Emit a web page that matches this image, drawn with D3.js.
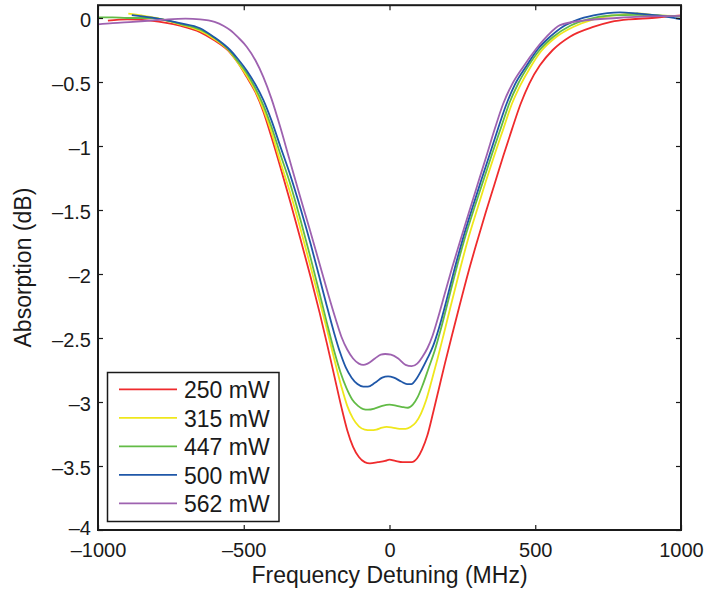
<!DOCTYPE html>
<html>
<head>
<meta charset="utf-8">
<script src="https://cdn.jsdelivr.net/npm/d3@7"></script>
<style>
  body { margin: 0; background: #fff; }
  text { font-family: "Liberation Sans", Arial, Helvetica, sans-serif; fill: #1a1a1a; }
</style>
</head>
<body>
<div id="canvas"></div>
<script>
  // series labels and colours, same order as the legend
  const seriesNames = ['250 mW', '315 mW', '447 mW', '500 mW', '562 mW'];
  const seriesColors = ['#ef2b2d', '#efe71c', '#62bb46', '#1f57a8', '#9e62b0'];

  const xTicks = [-1000, -500, 0, 500, 1000];
  const yTicks = [0, -0.5, -1, -1.5, -2, -2.5, -3, -3.5, -4];

  // [detuning MHz, absorption dB]
  const p250 = [[-966,-0.02],[-900,-0.01],[-820,-0.02],[-719,-0.06],[-650,-0.11],[-604,-0.17],[-547,-0.27],[-520,-0.35],[-490,-0.46],[-460,-0.58],[-433,-0.73],[-405,-0.93],[-375,-1.16],[-340,-1.44],[-305,-1.73],[-270,-2.03],[-240,-2.3],[-215,-2.54],[-190,-2.79],[-165,-3.04],[-145,-3.22],[-125,-3.35],[-105,-3.43],[-85,-3.47],[-67,-3.48],[-40,-3.47],[-15,-3.46],[0,-3.45],[20,-3.46],[45,-3.47],[76,-3.47],[95,-3.44],[112,-3.37],[130,-3.26],[150,-3.08],[170,-2.89],[190,-2.7],[212,-2.5],[240,-2.25],[270,-1.99],[300,-1.75],[330,-1.52],[360,-1.3],[390,-1.08],[420,-0.87],[450,-0.67],[480,-0.51],[516,-0.37],[560,-0.25],[619,-0.146],[699,-0.07],[760,-0.03],[825,-0.01],[900,0.0],[1000,0.02]];
  const p315 = [[-896,0.035],[-850,0.02],[-800,0.0],[-719,-0.05],[-650,-0.1],[-604,-0.16],[-547,-0.265],[-520,-0.35],[-490,-0.45],[-460,-0.57],[-433,-0.71],[-405,-0.89],[-375,-1.12],[-340,-1.37],[-305,-1.65],[-270,-1.95],[-240,-2.21],[-215,-2.43],[-190,-2.66],[-165,-2.88],[-145,-3.03],[-125,-3.13],[-105,-3.19],[-85,-3.215],[-65,-3.22],[-45,-3.215],[-25,-3.2],[-10,-3.195],[10,-3.2],[35,-3.21],[55,-3.21],[72,-3.195],[90,-3.16],[108,-3.09],[125,-2.99],[145,-2.83],[165,-2.66],[185,-2.48],[210,-2.25],[240,-1.98],[268,-1.74],[300,-1.5],[330,-1.28],[360,-1.07],[390,-0.87],[420,-0.67],[450,-0.52],[482,-0.39],[520,-0.26],[573,-0.146],[630,-0.07],[700,-0.01],[770,0.02],[848,0.036],[920,0.02],[1000,0.016]];
  const p447 = [[-1000,0.005],[-950,0.005],[-900,0.0],[-822,0.0],[-760,-0.02],[-719,-0.045],[-650,-0.09],[-604,-0.15],[-547,-0.26],[-520,-0.34],[-490,-0.43],[-460,-0.55],[-433,-0.68],[-405,-0.85],[-375,-1.06],[-340,-1.3],[-305,-1.58],[-270,-1.88],[-240,-2.15],[-215,-2.38],[-190,-2.6],[-168,-2.77],[-148,-2.89],[-128,-2.98],[-108,-3.03],[-90,-3.055],[-74,-3.06],[-50,-3.05],[-25,-3.03],[0,-3.02],[25,-3.03],[45,-3.04],[63,-3.045],[80,-3.02],[97,-2.96],[115,-2.86],[135,-2.73],[155,-2.6],[175,-2.44],[200,-2.22],[228,-1.97],[257,-1.73],[290,-1.49],[322,-1.27],[352,-1.06],[382,-0.86],[412,-0.66],[442,-0.51],[475,-0.38],[515,-0.25],[562,-0.146],[620,-0.06],[680,-0.01],[760,0.02],[850,0.025],[920,0.02],[1000,0.01]];
  const p500 = [[-884,0.023],[-840,0.01],[-780,-0.01],[-719,-0.04],[-650,-0.08],[-604,-0.146],[-547,-0.25],[-520,-0.32],[-490,-0.41],[-460,-0.52],[-433,-0.64],[-405,-0.8],[-375,-1.0],[-340,-1.23],[-305,-1.49],[-270,-1.77],[-240,-2.03],[-215,-2.25],[-190,-2.46],[-170,-2.61],[-150,-2.73],[-130,-2.81],[-110,-2.86],[-90,-2.88],[-74,-2.88],[-50,-2.85],[-25,-2.81],[-5,-2.8],[15,-2.81],[40,-2.84],[60,-2.86],[75,-2.86],[92,-2.82],[110,-2.75],[130,-2.66],[150,-2.56],[170,-2.42],[195,-2.21],[222,-1.97],[251,-1.73],[282,-1.5],[313,-1.28],[343,-1.07],[373,-0.86],[400,-0.68],[430,-0.52],[468,-0.38],[510,-0.24],[551,-0.146],[600,-0.06],[642,-0.016],[700,0.02],[791,0.044],[850,0.035],[920,0.02],[1000,-0.01]];
  const p562 = [[-1000,-0.05],[-950,-0.04],[-880,-0.03],[-820,-0.02],[-760,-0.01],[-700,-0.005],[-650,-0.01],[-600,-0.03],[-570,-0.06],[-547,-0.094],[-520,-0.15],[-490,-0.224],[-460,-0.33],[-433,-0.46],[-405,-0.63],[-375,-0.85],[-345,-1.09],[-310,-1.37],[-275,-1.64],[-240,-1.92],[-210,-2.16],[-185,-2.35],[-165,-2.49],[-145,-2.59],[-125,-2.66],[-105,-2.7],[-90,-2.71],[-75,-2.7],[-50,-2.66],[-30,-2.63],[-15,-2.625],[5,-2.63],[30,-2.66],[55,-2.71],[76,-2.72],[95,-2.7],[112,-2.65],[130,-2.58],[148,-2.48],[168,-2.33],[190,-2.15],[215,-1.95],[244,-1.73],[275,-1.5],[305,-1.28],[335,-1.06],[362,-0.86],[390,-0.67],[420,-0.52],[459,-0.38],[500,-0.25],[539,-0.146],[585,-0.055],[665,-0.02],[780,0.0],[860,0.01],[1000,0.016]];

  const seriesData = [p250, p315, p447, p500, p562];

  const width = 706;
  const height = 591;
  const plotLeft = 98, plotRight = 681, plotTop = 5.2, plotBottom = 530;

  const svg = d3.select('#canvas')
    .append('svg')
    .attr('width', width)
    .attr('height', height);

  const x = d3.scaleLinear().domain([-1000, 1000]).range([plotLeft, plotRight]);
  const y = d3.scaleLinear().domain([-4, 0.1]).range([plotBottom, plotTop]);

  const fmt = (d) => d3.format('')(d).replace(/[-\u2212]/, '\u2013');

  svg.append('defs').append('clipPath').attr('id', 'clip')
    .append('rect')
    .attr('x', plotLeft).attr('y', plotTop)
    .attr('width', plotRight - plotLeft).attr('height', plotBottom - plotTop);

  const line = d3.line()
    .x(d => x(d[0]))
    .y(d => y(d[1]))
    .curve(d3.curveMonotoneX);

  svg.append('g').attr('clip-path', 'url(#clip)')
    .selectAll('path')
    .data(seriesData)
    .enter()
    .append('path')
    .attr('d', line)
    .attr('fill', 'none')
    .attr('stroke', (d, i) => seriesColors[i])
    .attr('stroke-width', 1.8)
    .attr('stroke-linejoin', 'round');

  // axes, ticks pointing in
  const xAxis = svg.append('g')
    .attr('transform', `translate(0,${plotBottom})`)
    .call(d3.axisBottom(x).tickValues(xTicks).tickFormat(fmt).tickSizeInner(-5).tickSizeOuter(0).tickPadding(13));
  const xTop = svg.append('g')
    .attr('transform', `translate(0,${plotTop})`)
    .call(d3.axisTop(x).tickValues(xTicks).tickFormat('').tickSizeInner(-5).tickSizeOuter(0));
  const yAxis = svg.append('g')
    .attr('transform', `translate(${plotLeft},0)`)
    .call(d3.axisLeft(y).tickValues(yTicks).tickFormat(fmt).tickSizeInner(-5).tickSizeOuter(0).tickPadding(7));
  const yRight = svg.append('g')
    .attr('transform', `translate(${plotRight},0)`)
    .call(d3.axisRight(y).tickValues(yTicks).tickFormat('').tickSizeInner(-5).tickSizeOuter(0));

  [xAxis, xTop, yAxis, yRight].forEach(g => {
    g.select('.domain').remove();
    g.selectAll('line').attr('stroke', '#1a1a1a').attr('stroke-width', 1.2);
    g.selectAll('text').style('font-size', '20px').attr('fill', '#1a1a1a');
  });
  // bottom label sits a touch higher, as in the original
  yAxis.selectAll('text').attr('dy', d => d === -4 ? '0.2em' : '0.4em');

  svg.append('rect')
    .attr('x', plotLeft).attr('y', plotTop)
    .attr('width', plotRight - plotLeft).attr('height', plotBottom - plotTop)
    .attr('fill', 'none')
    .attr('stroke', '#1a1a1a')
    .attr('stroke-width', 2);

  svg.append('text')
    .attr('x', (plotLeft + plotRight) / 2)
    .attr('y', 582.5)
    .attr('text-anchor', 'middle')
    .style('font-size', '23px')
    .text('Frequency Detuning (MHz)');

  svg.append('text')
    .attr('transform', `translate(31,${(plotTop + plotBottom) / 2}) rotate(-90)`)
    .attr('text-anchor', 'middle')
    .style('font-size', '23px')
    .text('Absorption (dB)');

  // Legend
  const legend = svg.append('g');
  legend.append('rect')
    .attr('x', 107.5).attr('y', 372.5)
    .attr('width', 171.5).attr('height', 149)
    .attr('fill', '#fff')
    .attr('stroke', '#1a1a1a')
    .attr('stroke-width', 1.5);

  seriesNames.forEach((name, i) => {
    const ly = 389.3 + i * 28.5;
    legend.append('line')
      .attr('x1', 119).attr('x2', 177)
      .attr('y1', ly).attr('y2', ly)
      .attr('stroke', seriesColors[i])
      .attr('stroke-width', 1.8);
    legend.append('text')
      .attr('x', 184).attr('y', ly + 9)
      .style('font-size', '23px')
      .text(name);
  });
</script>
</body>
</html>
